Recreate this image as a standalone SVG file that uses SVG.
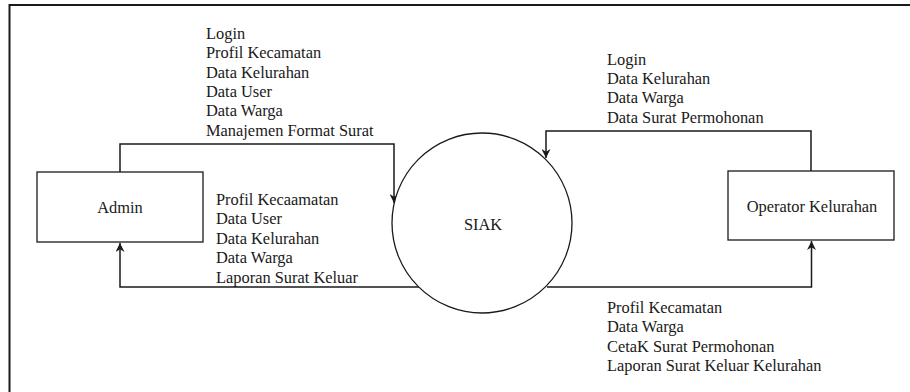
<svg xmlns="http://www.w3.org/2000/svg" width="910" height="392" viewBox="0 0 910 392">
<style>
.shape{fill:#fff;stroke:#1a1a1a;stroke-width:1.3}
.frame{fill:none;stroke:#1a1a1a;stroke-width:2}
.conn{fill:none;stroke:#1a1a1a;stroke-width:1.5}
text{font-family:"Liberation Serif","Times New Roman",serif;font-size:16.4px;fill:#1a1a1a}
.c{text-anchor:middle}
</style>
<defs>
<marker id="arr" viewBox="0 0 10 10" refX="10" refY="5" markerWidth="9" markerHeight="9" markerUnits="userSpaceOnUse" orient="auto">
<path d="M0,0 L10,5 L0,10 L3,5 z" fill="#1a1a1a"/>
</marker>
</defs>
<rect width="910" height="392" fill="#fff"/>
<path class="frame" d="M9.5,400 V5 H910"/>
<g id="connectors">
<path class="conn" d="M120,172 V144 H394 V203" marker-end="url(#arr)"/>
<path class="conn" d="M811,171 V131 H546 V158" marker-end="url(#arr)"/>
<path class="conn" d="M419,287 H120 V243" marker-end="url(#arr)"/>
<path class="conn" d="M547,287 H811.5 V241" marker-end="url(#arr)"/>
</g>
<g id="admin">
<rect class="shape" x="37" y="172" width="166" height="70"/>
<text class="c" x="120" y="213">Admin</text>
</g>
<g id="siak">
<circle class="shape" cx="482" cy="223" r="90"/>
<text class="c" x="483" y="230">SIAK</text>
</g>
<g id="operator">
<rect class="shape" x="728" y="171" width="166" height="69"/>
<text class="c" x="812" y="212">Operator Kelurahan</text>
</g>
<g id="labels">
<text x="206"><tspan x="206" y="39">Login</tspan><tspan x="206" y="58.3">Profil Kecamatan</tspan><tspan x="206" y="77.6">Data Kelurahan</tspan><tspan x="206" y="96.9">Data User</tspan><tspan x="206" y="116.2">Data Warga</tspan><tspan x="206" y="135.5">Manajemen Format Surat</tspan></text>
<text x="216"><tspan x="216" y="205">Profil Kecaamatan</tspan><tspan x="216" y="224.4">Data User</tspan><tspan x="216" y="243.8">Data Kelurahan</tspan><tspan x="216" y="263.2">Data Warga</tspan><tspan x="216" y="282.6">Laporan Surat Keluar</tspan></text>
<text x="607"><tspan x="607" y="65">Login</tspan><tspan x="607" y="84.2">Data Kelurahan</tspan><tspan x="607" y="103.4">Data Warga</tspan><tspan x="607" y="122.6">Data Surat Permohonan</tspan></text>
<text x="607"><tspan x="607" y="313">Profil Kecamatan</tspan><tspan x="607" y="332.4">Data Warga</tspan><tspan x="607" y="351.8">CetaK Surat Permohonan</tspan><tspan x="607" y="371.2">Laporan Surat Keluar Kelurahan</tspan></text>
</g>
</svg>
